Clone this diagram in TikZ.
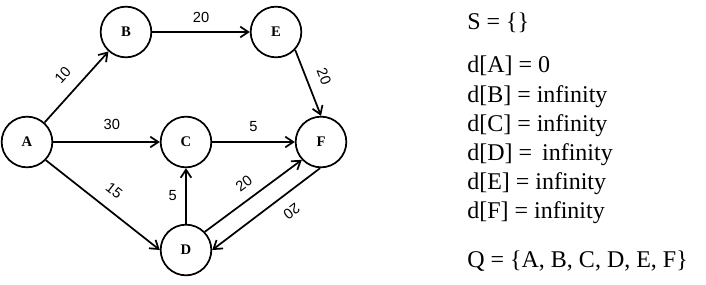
\documentclass[tikz,border=0pt]{standalone}
\usepackage{fontspec}
\setmainfont{Liberation Serif}
\newfontfamily\weightfont{Liberation Sans}
\usetikzlibrary{arrows.meta}

\begin{document}
\begin{tikzpicture}[
    x=0.75pt, y=-0.75pt, % one unit per pixel, y downwards
    >={Straight Barb[length=6pt,width=8pt]}, % open arrow heads
    vertex/.style={draw, circle, line width=1.3pt, minimum size=38pt, inner sep=0pt, font=\fontsize{11}{13}\selectfont\bfseries},
    edge/.style={->, line width=1.3pt},
    weight/.style={font=\weightfont\fontsize{11}{13}\selectfont},
    info/.style={anchor=base west, inner sep=0pt, font=\fontsize{18}{21}\selectfont}
]
\useasboundingbox (0,0) rectangle (706,285);

% Vertices
\node[vertex] (A) at (27, 142) {A};
\node[vertex] (B) at (126, 32) {B};
\node[vertex] (E) at (276, 32) {E};
\node[vertex] (C) at (186, 142) {C};
\node[vertex] (F) at (321, 142) {F};
\node[vertex] (D) at (186, 250) {D};

% Weighted edges
\draw[edge] (A) -- node[weight, sloped, above=6pt] {10} (B);
\draw[edge] (B) -- node[weight, above=3pt] {20} (E);
\draw[edge] (E.-43) -- node[weight, sloped, above=5pt] {20} (F.90);
\draw[edge] (A) -- node[weight, pos=0.55, above=5pt] {30} (C);
\draw[edge] (C) -- node[weight, above=4pt] {5} (F);
\draw[edge] (A.-44) -- node[weight, sloped, above=6pt] {15} (D.180);
\draw[edge] (D) -- node[weight, left=3pt] {5} (C);
\draw[edge] (D.44) -- node[weight, sloped, above=4pt] {20} (F.223);
\draw[edge] (F.268) -- node[weight, sloped, allow upside down, pos=0.36, above=5pt] {20} (D.0);

% Initial state of the algorithm
\node[info] (S) at (467, 30) {S = \{\}};
\node[info] (dA) at (467, 73) {d[A] = 0};
\node[info] (dB) at (467, 102) {d[B] = infinity};
\node[info] (dC) at (467, 131) {d[C] = infinity};
\node[info] (dD) at (467, 160) {d[D] = \,infinity};
\node[info] (dE) at (467, 189) {d[E] = infinity};
\node[info] (dF) at (467, 218) {d[F] = infinity};
\node[info] (Q) at (467, 267) {Q = \{A, B, C, D, E, F\}};

\end{tikzpicture}
\end{document}
